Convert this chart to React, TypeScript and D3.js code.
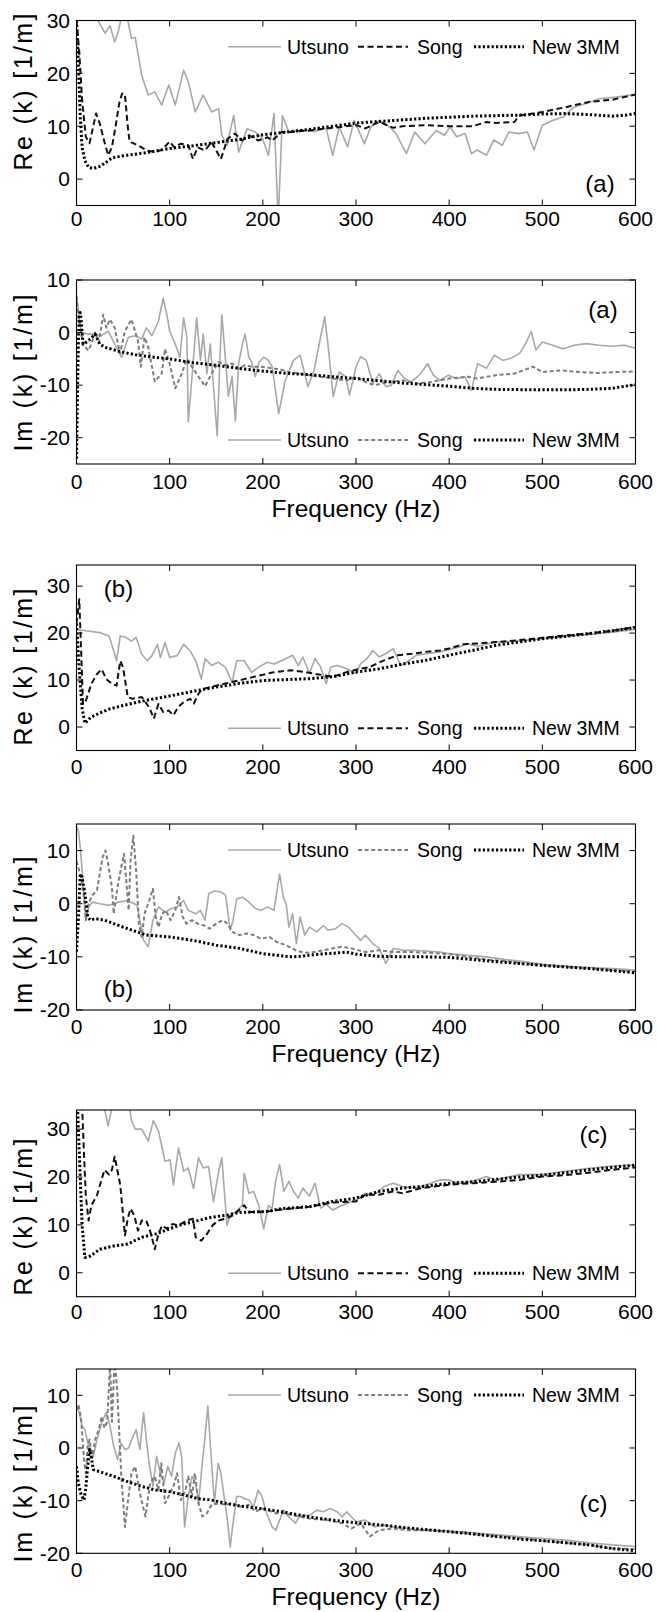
import React from 'react';
import * as d3 from 'd3';

type Pt = [number, number];

const freqTicks = [0, 100, 200, 300, 400, 500, 600];
const reTicks = [0, 10, 20, 30];
const imTicks = [-20, -10, 0, 10];
const seriesNames = ['Utsuno', 'Song', 'New 3MM'];
const panelTags = ['(a)', '(a)', '(b)', '(b)', '(c)', '(c)'];
const reTitle = 'Re (k) [1/m]';
const imTitle = 'Im (k) [1/m]';
const xTitle = 'Frequency (Hz)';

// ---------- Panel (a) Re ----------
const reA_utsuno: Pt[] = [[0,45],[10,40],[18,34],[23,30],[30.5,27.6],[36,29],[41,26],[45,28],[48.5,31],[54,31],[59,26.6],[63,26.8],[70,19.6],[77,15.9],[84,16.5],[91.5,14],[99,17.8],[106,14],[115,20.6],[120,18.4],[127.5,12.7],[136,15.9],[145,12.7],[152.5,13.3],[156,8.3],[161.5,6.4],[168.7,12],[174,5.1],[183,9.5],[192,8.9],[199,7.9],[206,4.5],[212,12.4],[216.5,-8],[221,12],[228,8.9],[240,9.3],[255,9.0],[268,9.6],[275,4.5],[282,9.9],[291,6.1],[298,11.1],[309,6.7],[316,9.9],[325,11.1],[336,9.9],[343,8.6],[354,4.8],[363,8.9],[374,6.7],[386,9.2],[395,8.3],[401,9.9],[408,8.0],[417,8.6],[424,4.8],[430,5.5],[440,4.5],[448,7.4],[457,6.4],[464,8.9],[475,8.6],[484,8.9],[491,5.5],[500,10.2],[511,11.1],[523,11.8],[534,13.6],[547,14.3],[561,15.2],[579,15.5],[600,16.0]];
const reA_song: Pt[] = [[0,30],[3,24],[6,15],[10,8],[14,6.8],[18,10],[21,12.4],[25,10.5],[30,7],[34,4.5],[38,6],[42,10],[46,14.5],[49,16.2],[52,16],[55,10],[57,7],[61,6.8],[65,6.4],[70,6.0],[75,5.4],[85,5.1],[92,5.6],[100,7.1],[105,6.0],[112,6.7],[120,6.4],[125,3.8],[130,6.0],[138,5.4],[145,7.0],[155,3.8],[162,7.6],[170,8.6],[178,7.3],[185,8.3],[195,7.3],[205,7.9],[210,7.3],[220,8.9],[230,8.9],[250,9.2],[275,9.7],[300,10.2],[310,9.6],[325,10.8],[340,9.7],[350,10.0],[375,10.2],[400,10.0],[425,10.0],[440,10.8],[450,10.6],[470,10.8],[475,12.0],[500,12.7],[525,13.6],[550,14.6],[575,15.0],[600,16.0]];
const reA_new3mm: Pt[] = [[0,30],[2,22],[4,12],[6,6],[9,3.5],[13,2.2],[18,2.0],[25,2.4],[32,3.2],[38,4.0],[50,4.4],[75,5.0],[100,5.8],[125,6.3],[150,6.9],[175,7.5],[200,8.4],[225,8.9],[250,9.4],[275,10.0],[300,10.6],[325,10.9],[350,11.2],[375,11.5],[400,11.7],[425,11.9],[450,12.0],[475,12.1],[500,12.3],[525,12.4],[550,12.2],[575,11.9],[590,12.1],[600,12.4]];

// ---------- Panel (a) Im ----------
const imA_utsuno: Pt[] = [[0,7.1],[5,0],[12.6,-0.3],[20,-0.3],[27,-0.6],[34,0.3],[41,-2.2],[48.5,-4.7],[55.6,-0.9],[63,-0.6],[70,-1.2],[75,0.9],[81,-0.6],[88,2.2],[93,6.5],[97,3.4],[100,0.3],[106,-2.2],[111,-4.7],[115,2.8],[118.5,-0.9],[120,-17],[124,-8.4],[127,-1.6],[129,2.8],[133,-5.3],[136,-0.3],[140,-7.8],[143.6,-2.2],[147,-10.2],[151,-19.6],[154,-4.7],[156,3.4],[160,-5.3],[163,-12.1],[167,-8.4],[170.5,-16.8],[174,-5.9],[178,-2.2],[181,-0.3],[185,-4.7],[188,-5.6],[192,-8.4],[196,-5.6],[201,-4.7],[206,-5.3],[210,-6.5],[217,-15.4],[224,-9.1],[233,-5.3],[240,-4.3],[248.5,-10.3],[255,-7.2],[262,-0.8],[266.5,3],[271,-4],[275.5,-12.2],[282,-7.5],[289,-8.4],[293,-11.9],[300,-6.5],[305,-4.6],[311,-5.3],[318,-9.7],[325,-7.8],[332,-10.3],[338,-10],[345,-7.2],[352,-8.75],[359,-9.4],[368,-8.1],[377,-5.9],[383,-8.1],[390,-9.1],[399,-8.1],[408,-8.75],[417,-8.4],[424,-11],[430.5,-5.9],[440,-6.8],[448.5,-4.3],[457.5,-5.3],[466,-4.9],[475.5,-4.0],[482,-2.1],[488,0.2],[493,-3.3],[500,-1.8],[511,-2.4],[522.6,-3.1],[534,-2.4],[547,-2.1],[561,-2.4],[574,-2.6],[588,-2.4],[600,-3]];
const imA_song: Pt[] = [[0,7],[2,3],[4,1],[7,-2.2],[12.6,-3.4],[16,-2.2],[20,0],[24,-1.9],[28.7,3.4],[32,0.9],[36,2.5],[41,0.9],[46.7,-4],[52,0.3],[59,2.5],[66,-1.6],[69,-6.5],[73,-0.9],[77,-2.8],[84,-9.3],[91.5,-7.8],[95,-3.1],[100,-5.9],[106,-10.6],[113,-7.8],[118.5,-5],[124,-6.5],[131,-8.4],[138,-10.2],[145,-7.8],[152.5,-5.6],[160,-6.2],[167,-5.9],[174,-6.8],[181,-6.2],[188,-6.5],[199,-6.5],[210,-6.8],[221,-7.1],[228,-7.5],[250,-8.1],[275,-8.75],[290,-9.1],[300,-8.4],[310,-9.4],[320,-10],[335,-9.4],[350,-9.1],[365,-9.7],[380,-9.4],[400,-8.75],[420,-8.4],[430,-8.75],[450,-8.1],[470,-7.8],[490,-6.5],[500,-7.5],[520,-7.2],[540,-7.5],[560,-7.7],[580,-7.5],[600,-7.4]];
const imA_new3mm: Pt[] = [[0,-24],[1,-12],[2,-2],[3,3.5],[4,3.8],[5,2.5],[7,-2.2],[10,-1.9],[15,-1.2],[20,-0.3],[25,-2.2],[30.5,-2.8],[48.5,-3.7],[66,-4.3],[84,-4.7],[100,-5.0],[120,-5.6],[149,-6.2],[174,-6.8],[199,-7.3],[228,-7.8],[250,-8.0],[275,-8.4],[300,-8.75],[350,-9.6],[400,-10.2],[425,-10.6],[450,-10.8],[500,-10.9],[525,-10.9],[550,-10.8],[575,-10.6],[600,-9.9]];

// ---------- Panel (b) Re ----------
const reB_utsuno: Pt[] = [[0,20.8],[10,20.5],[25,20.1],[35,19.4],[40,16.2],[43,14.1],[47,19.4],[53,19.1],[59,18.3],[64,19.1],[70,15.5],[76,14.1],[81,15.2],[87,17.6],[90,14.8],[95,18],[100,14.8],[108,15.2],[115,17.6],[122,16.2],[128,14.1],[134,10.2],[138,14.5],[145,13.1],[152,13.8],[160,12.7],[167,9.5],[172,14.1],[180,14.1],[188,11.6],[195,12.7],[205,13.8],[212,13.4],[220,14.1],[225,14.6],[232,15.3],[238,13.1],[243,14.9],[250,11.4],[256,14.6],[262,12.8],[268,9.2],[273,12.8],[280,13.1],[290,12.4],[300,11.4],[305,13.5],[312,14.6],[318,16.3],[325,14.9],[332,15.6],[340,16.7],[348,13.1],[355,13.9],[365,15.3],[375,15.6],[390,16.0],[400,16.5],[410,17],[420,17.8],[430,17.2],[450,18.1],[475,18.3],[500,18.8],[525,19.3],[550,19.7],[575,20.2],[600,20.8]];
const reB_song: Pt[] = [[0,22],[3,27.2],[7,4.9],[10,5.6],[16,9.2],[22,11.3],[27,12.3],[32,10.2],[38,9.2],[43,8.8],[47,14.1],[50,12.7],[55,6.4],[60,6],[70,6.4],[78,4.2],[83,1.8],[88,4.9],[93,3.2],[99,3.5],[104,2.5],[109,4.2],[115,5.3],[122,6],[126,5],[131,7.1],[135,8.1],[150,8.8],[165,9.5],[180,10.2],[195,10.9],[210,11.6],[230,12.1],[245,11.7],[260,11.2],[275,10.7],[290,11.7],[300,12.2],[315,12.8],[330,14.2],[345,15.3],[360,15.6],[375,16],[390,16.3],[400,16.7],[415,17.6],[430,17.8],[450,18.1],[475,18.5],[500,19],[525,19.5],[550,19.9],[575,20.5],[600,21.3]];
const reB_new3mm: Pt[] = [[0,22],[3,12],[6,4],[9,0.8],[15,2],[25,3],[35,3.8],[50,4.6],[75,5.7],[100,6.6],[125,7.6],[150,8.5],[175,9.3],[200,9.9],[225,10.1],[250,10.3],[275,10.7],[300,11.7],[325,12.4],[350,13.4],[375,14.2],[400,15.3],[425,16.3],[450,17.4],[475,18.1],[500,18.8],[525,19.3],[550,19.9],[575,20.5],[600,21.2]];

// ---------- Panel (b) Im ----------
const imB_utsuno: Pt[] = [[0,14.4],[2,13.75],[4,10.6],[6,6.25],[8,1.9],[10,-3.1],[13,-0.6],[17,0.3],[25,0],[35,-0.3],[45,0.3],[55,0.6],[65,-0.3],[72,-6.9],[77,-8.1],[82,-3.1],[88,-0.6],[95,-1.6],[102,-0.9],[108,-0.6],[115,0.6],[120,-1.25],[128,-1.9],[133,-1.25],[138,-3.1],[142,1.9],[148,2.4],[155,2.2],[160,1.6],[165,-5],[168,-3.1],[172,0.9],[178,1.25],[185,0.3],[192,-0.9],[198,-1.25],[205,-0.6],[212,-1.25],[218,5.6],[222,1.2],[225,0],[228,-4.4],[232,-1.9],[236,-7.5],[240,-2.5],[245,-5.9],[250,-4.4],[258,-5.3],[265,-4.1],[270,-5],[278,-4.7],[285,-3.75],[292,-4.4],[298,-5.6],[305,-6.9],[310,-5.9],[318,-7.5],[325,-8.4],[332,-11.25],[340,-8.4],[350,-8.75],[360,-8.75],[375,-8.9],[390,-9.1],[400,-9.4],[420,-9.7],[440,-10],[460,-10.5],[480,-10.9],[500,-11.4],[525,-11.75],[550,-12],[575,-12.2],[600,-12.5]];
const imB_song: Pt[] = [[0,8],[5,5],[8,1.25],[10,-3.1],[13,0],[17,1.6],[22,2.5],[28,8.75],[31,10],[34,7.5],[38,3.1],[40,-1.9],[44,3.1],[48,6.9],[51,9.4],[54,3.1],[56,-1.25],[58,8.1],[61,12.8],[64,6.25],[67,-3.75],[70,-6.25],[73,-1.9],[78,0.6],[82,2.8],[85,-2.5],[88,-4.4],[92,-1.9],[96,-1.25],[101,-3.1],[106,-1.25],[110,1.25],[114,-2.5],[118,-3.75],[124,-3.1],[130,-3.75],[137,-4.1],[143,-4.7],[150,-3.75],[157,-3.1],[162,-3.75],[167,-5.3],[175,-5.9],[183,-5.6],[190,-5.9],[198,-6.6],[207,-6.25],[215,-7.2],[225,-7.8],[235,-8.75],[245,-9.25],[255,-9.1],[265,-8.75],[275,-8.4],[285,-8.1],[295,-8.4],[310,-9.1],[325,-8.75],[340,-9.1],[360,-9.1],[380,-9.25],[400,-9.5],[420,-10],[440,-10.5],[460,-10.8],[480,-11.25],[500,-11.6],[525,-11.9],[550,-12.2],[575,-12.5],[600,-12.8]];
const imB_new3mm: Pt[] = [[0,-9],[2,-3],[4,5.6],[6,5],[8,3.1],[10,0.6],[12,-2.5],[15,-3.1],[20,-2.8],[30,-3.1],[50,-4.4],[75,-5.9],[100,-6.25],[125,-6.9],[150,-7.8],[175,-8.4],[200,-9.4],[215,-9.7],[230,-10],[240,-9.9],[260,-9.5],[280,-9.25],[290,-9.1],[300,-9.5],[325,-9.9],[350,-10],[375,-10],[400,-10.1],[425,-10.5],[450,-10.9],[475,-11.25],[500,-11.6],[525,-11.9],[550,-12.2],[575,-12.6],[600,-13]];

// ---------- Panel (c) Re ----------
const reC_utsuno: Pt[] = [[0,45],[15,40],[25,36],[30.5,33.9],[34,30.7],[38,34.5],[57,34.5],[59,31.8],[63,30],[70,30],[77,27.5],[82.5,31.8],[88,29.6],[95,23.3],[100.5,23.6],[104,18.3],[109.5,26.1],[115,21.2],[120,21.9],[125.6,17.6],[131,24],[136,21.9],[141.8,22.2],[147,14.8],[152.6,21.2],[156,24],[161.5,9.9],[165,12],[170.5,12.7],[178,14.1],[180,20.8],[185,16.6],[190,17],[195.6,14.1],[201,9.2],[206,14.1],[210,13.4],[213.6,19.1],[218,22.6],[222.6,17],[228,19.1],[232,17.3],[238,15.6],[243,17.7],[250,16],[256,18.7],[262,13.5],[268,14.3],[275,13.1],[285,14.1],[300,15.2],[310,16.6],[320,16.3],[330,18],[340,18.7],[350,18],[365,17.7],[380,18.7],[390,19.4],[400,19.4],[410,18.7],[425,19.1],[440,20.1],[450,19.4],[475,20.5],[500,20.5],[525,21.2],[550,21.8],[575,22.3],[600,22.5]];
const reC_song: Pt[] = [[0,45],[5,40],[8,25],[10,16],[13,10.9],[16,14.1],[22,16.2],[30,21.5],[35,20.5],[38,21.5],[41,24.3],[47,18.3],[52,7.8],[55,11.3],[58,13.4],[62,12],[66,8.8],[70,10.9],[75,10.9],[80,8.1],[84,4.9],[88,8.1],[92,9.9],[97,9.2],[103,10.2],[110,9.9],[118,10.9],[125,11.3],[128,7.4],[134,6.7],[140,8.1],[146,9.9],[152,10.9],[160,11.3],[168,12],[176,13.4],[180,14.1],[185,12.7],[195,12.7],[205,12.8],[215,13.1],[250,13.8],[275,14.7],[300,14.9],[310,16.3],[325,16.3],[340,17],[350,16.6],[370,17.7],[400,18.4],[425,18.7],[450,19],[475,19.4],[500,20.1],[525,20.4],[550,20.9],[575,21.5],[600,22]];
const reC_new3mm: Pt[] = [[0,40],[3,25],[6,10],[9,3.2],[15,3.5],[25,4.9],[40,5.6],[55,6],[70,7.4],[85,8.1],[100,9.2],[115,10.2],[130,10.9],[145,11.6],[160,12],[175,12.6],[190,12.7],[205,12.8],[220,13.4],[250,13.8],[275,14.9],[300,15.6],[325,17],[350,17.7],[375,18.1],[400,18.7],[425,19],[450,19.5],[475,20],[500,20.4],[525,20.9],[550,21.5],[575,22],[600,22.5]];

// ---------- Panel (c) Im ----------
const imC_utsuno: Pt[] = [[0,8],[3,6.7],[6,4.1],[9,3.5],[12,1],[18,-1.6],[22,1.6],[27,4.8],[32,6.7],[36,4.1],[40,0.3],[44,-2.2],[48,0.9],[52,-0.3],[56,0],[60,1.9],[64,3.5],[68,-0.3],[72,6.7],[75,1.6],[78,-2.9],[82,-7.3],[86,-1.6],[90,-4.8],[94,-6.7],[98,-3.5],[102,-5.4],[106,-1],[110,1],[113,-1.9],[116,-15],[120,-9.2],[124,-5.4],[128,-6.7],[131,-10.5],[135,-2.9],[138,2.2],[141,8],[144,-0.3],[148,-10.5],[152,-2.9],[155,-4.8],[158,-8.6],[162,-13.7],[165,-18.8],[168,-14.3],[172,-9.2],[176,-9.2],[180,-9.6],[185,-9.9],[190,-11.1],[195,-8],[199,-9.2],[204,-12.4],[210,-15],[214,-15.6],[218,-13.7],[222,-11.8],[228,-13.1],[235,-14.3],[240,-12.8],[250,-12.8],[258,-11.8],[265,-12.1],[272,-11.5],[280,-12.1],[285,-13.1],[290,-12.1],[300,-14],[310,-13.7],[320,-15],[330,-14.6],[340,-15],[350,-15.1],[365,-15.5],[380,-15.6],[400,-15.8],[420,-16],[440,-16.3],[460,-16.6],[480,-16.9],[500,-17.2],[525,-17.5],[550,-18],[575,-18.4],[600,-18.7]];
const imC_song: Pt[] = [[0,7.3],[2,8.3],[5,5.4],[8,-2.2],[10,-4.8],[12,0.3],[14,1.6],[17,-1.9],[20,1.6],[24,3.5],[27,6],[30,3.8],[33,5],[36,16],[38,5],[41,17],[44,10],[48,-5],[52,-15],[56,-9],[59,-4.8],[63,-3.5],[68,-8.6],[74,-13],[79,-6.7],[84,-5.4],[88,-8],[91,-2.9],[95,-10.5],[100.5,-8.6],[104,-7.3],[108,-4.8],[112,-9.9],[117,-8],[120,-5.4],[124,-9.2],[127,-4.8],[131,-10.5],[135,-13],[140,-12.4],[145,-10.8],[152.6,-10.5],[160,-10.8],[167,-10.5],[176,-11.1],[185,-10.8],[192,-12.1],[199,-11.5],[206,-11.8],[213.6,-12.4],[224,-12.4],[230,-12.7],[250,-13.4],[270,-13.7],[285,-14.3],[295,-15.3],[305,-14.3],[315,-16.8],[325,-15.6],[340,-15.3],[355,-15.6],[375,-15.6],[400,-15.9],[425,-16.3],[450,-16.7],[475,-17.1],[500,-17.6],[525,-18],[550,-18.4],[575,-19.1],[600,-19.2]];
const imC_new3mm: Pt[] = [[0,-3.5],[2,-6.7],[5,-8.9],[8,-9.9],[10,-7.6],[12,-3.5],[14,-0.3],[16,-1.9],[18,-4.1],[25,-4.5],[40,-5.4],[55,-6.4],[70,-7.3],[85,-8],[100,-8.3],[115,-8.9],[130,-9.6],[145,-9.9],[160,-10.5],[175,-11],[190,-11.3],[205,-11.7],[220,-12.1],[250,-13.1],[275,-13.7],[300,-14.2],[325,-14.6],[350,-15.1],[375,-15.5],[400,-15.9],[425,-16.3],[450,-16.8],[475,-17.3],[500,-17.6],[525,-18],[550,-18.4],[575,-19.1],[600,-19.5]];

const W = 657;
const H = 1612;
const X0 = 76.5;
const X1 = 635.5;
const FONT = "'Liberation Sans', Arial, Helvetica, sans-serif";

interface PanelDef {
  top: number; bottom: number; lo: number; hi: number;
  ticks: number[]; title: string; titleY: number;
  xTickY: number; freqY: number | null; legendY: number;
  tag: string; tagX: number; tagY: number; im: boolean;
  utsuno: Pt[]; song: Pt[]; new3mm: Pt[];
}

const panels: PanelDef[] = [
  { top: 20.5, bottom: 205.5, lo: -5, hi: 30, ticks: reTicks, title: reTitle, titleY: 92, xTickY: 219, freqY: null, legendY: 46.7, tag: panelTags[0], tagX: 600, tagY: 183.5, im: false, utsuno: reA_utsuno, song: reA_song, new3mm: reA_new3mm },
  { top: 280, bottom: 464, lo: -25, hi: 10, ticks: imTicks, title: imTitle, titleY: 373, xTickY: 481.7, freqY: 508, legendY: 440, tag: panelTags[1], tagX: 603, tagY: 310, im: true, utsuno: imA_utsuno, song: imA_song, new3mm: imA_new3mm },
  { top: 565, bottom: 750.5, lo: -5, hi: 34.5, ticks: reTicks, title: reTitle, titleY: 667, xTickY: 766.7, freqY: null, legendY: 728.3, tag: panelTags[2], tagX: 118.5, tagY: 588.3, im: false, utsuno: reB_utsuno, song: reB_song, new3mm: reB_new3mm },
  { top: 824, bottom: 1010, lo: -20, hi: 15, ticks: imTicks, title: imTitle, titleY: 935, xTickY: 1026.7, freqY: 1053, legendY: 850, tag: panelTags[3], tagX: 118.5, tagY: 988.3, im: true, utsuno: imB_utsuno, song: imB_song, new3mm: imB_new3mm },
  { top: 1110, bottom: 1296.7, lo: -5, hi: 34, ticks: reTicks, title: reTitle, titleY: 1217, xTickY: 1311.7, freqY: null, legendY: 1273.3, tag: panelTags[4], tagX: 593.5, tagY: 1135, im: false, utsuno: reC_utsuno, song: reC_song, new3mm: reC_new3mm },
  { top: 1369, bottom: 1553.3, lo: -20, hi: 15, ticks: imTicks, title: imTitle, titleY: 1484, xTickY: 1570, freqY: 1596.7, legendY: 1395, tag: panelTags[5], tagX: 593.5, tagY: 1503.3, im: true, utsuno: imC_utsuno, song: imC_song, new3mm: imC_new3mm },
];

const styleUtsuno = { stroke: '#a8a8a8', width: 1.6, dash: undefined as string | undefined };
const styleSongRe = { stroke: '#111111', width: 2, dash: '6,3.5' };
const styleSongIm = { stroke: '#7c7c7c', width: 2, dash: '4,2.6' };
const styleNew = { stroke: '#000000', width: 3, dash: '2.2,2.2' };

const legendSlots = [
  { x1: 228, x2: 281, tx: 287 },
  { x1: 358, x2: 408, tx: 417 },
  { x1: 474, x2: 524, tx: 532 },
];

const x = d3.scaleLinear().domain([0, 600]).range([X0, X1]);

function Panel({ p, i }: { p: PanelDef; i: number }) {
  const y = d3.scaleLinear().domain([p.lo, p.hi]).range([p.bottom, p.top]);
  const line = d3.line<Pt>().x(d => x(d[0])).y(d => y(d[1]));
  const clipId = `clip${i}`;
  const tl = 6;
  const songStyle = p.im ? styleSongIm : styleSongRe;
  const styles = [styleUtsuno, songStyle, styleNew];
  const series = [p.utsuno, p.song, p.new3mm];
  return (
    <g>
      <defs>
        <clipPath id={clipId}>
          <rect x={X0} y={p.top} width={X1 - X0} height={p.bottom - p.top} />
        </clipPath>
      </defs>
      <g clipPath={`url(#${clipId})`}>
        {series.map((s, k) => (
          <path key={k} d={line(s) || ''} fill="none" stroke={styles[k].stroke}
            strokeWidth={styles[k].width} strokeDasharray={styles[k].dash} strokeLinejoin="round" />
        ))}
      </g>
      <rect x={X0} y={p.top} width={X1 - X0} height={p.bottom - p.top} fill="none" stroke="#000" strokeWidth={1.1} />
      {freqTicks.map(t => (
        <g key={'xt' + t}>
          <line x1={x(t)} x2={x(t)} y1={p.bottom} y2={p.bottom - tl} stroke="#000" />
          <line x1={x(t)} x2={x(t)} y1={p.top} y2={p.top + tl} stroke="#000" />
          <text x={x(t)} y={p.xTickY} dy="0.35em" textAnchor="middle" fontSize={21} fontFamily={FONT}>{t}</text>
        </g>
      ))}
      {p.ticks.map(t => (
        <g key={'yt' + t}>
          <line x1={X0} x2={X0 + tl} y1={y(t)} y2={y(t)} stroke="#000" />
          <line x1={X1} x2={X1 - tl} y1={y(t)} y2={y(t)} stroke="#000" />
          <text x={70} y={y(t)} dy="0.35em" textAnchor="end" fontSize={21} fontFamily={FONT}>{t}</text>
        </g>
      ))}
      <text transform={`translate(23,${p.titleY}) rotate(-90)`} textAnchor="middle" dy="0.35em"
        fontSize={25} fontFamily={FONT} textLength={157} lengthAdjust="spacing">{p.title}</text>
      {p.freqY !== null && (
        <text x={(X0 + X1) / 2} y={p.freqY} dy="0.35em" textAnchor="middle" fontSize={24.5} fontFamily={FONT}>{xTitle}</text>
      )}
      {legendSlots.map((ls, k) => (
        <g key={'lg' + k}>
          <line x1={ls.x1} x2={ls.x2} y1={p.legendY} y2={p.legendY} stroke={styles[k].stroke}
            strokeWidth={styles[k].width} strokeDasharray={styles[k].dash} />
          <text x={ls.tx} y={p.legendY} dy="0.35em" fontSize={19.5} fontFamily={FONT}>{seriesNames[k]}</text>
        </g>
      ))}
      <text x={p.tagX} y={p.tagY} dy="0.35em" textAnchor="middle" fontSize={24} fontFamily={FONT}>{p.tag}</text>
    </g>
  );
}

export default function App() {
  return (
    <svg width={W} height={H} viewBox={`0 0 ${W} ${H}`}
      style={{ position: 'absolute', left: 0, top: 0, background: '#fff' }}>
      <rect x={0} y={0} width={W} height={H} fill="#fff" />
      {panels.map((p, i) => <Panel key={i} p={p} i={i} />)}
    </svg>
  );
}
